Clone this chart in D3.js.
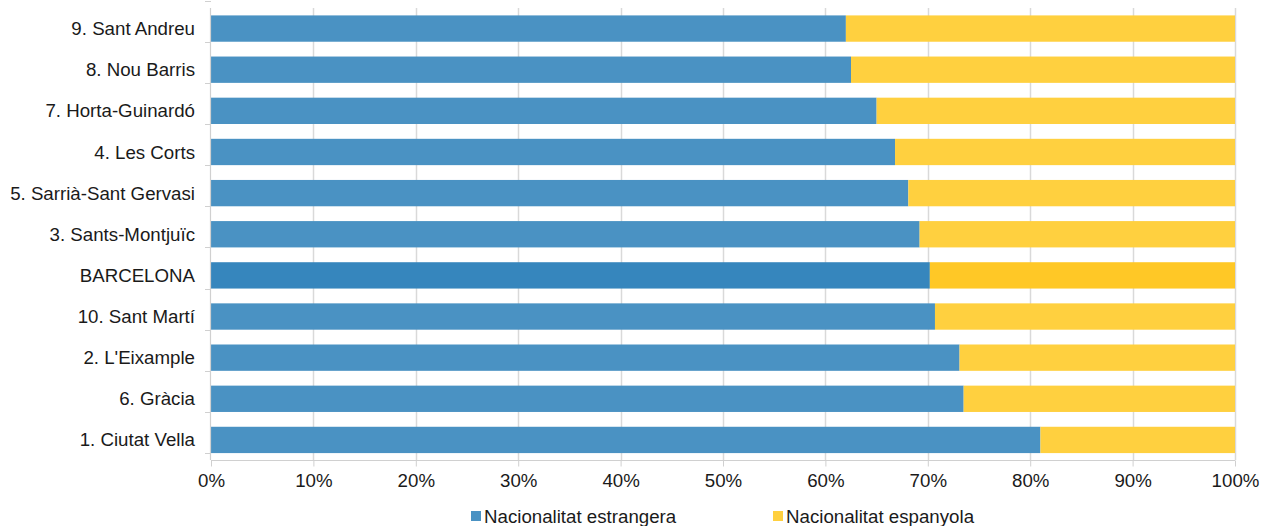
<!DOCTYPE html>
<html>
<head>
<meta charset="utf-8">
<script src="https://cdn.jsdelivr.net/npm/d3@7"></script>
<style>
    body { margin: 0; background: #fff; }
    svg text { font-family: "Liberation Sans", Arial, sans-serif; fill: #1a1a1a; }
</style>
</head>
<body>
<svg id="chart" width="1269" height="526"></svg>
<script>
document.addEventListener('DOMContentLoaded', () => {
    'use strict';

    const districts = ['9. Sant Andreu', '8. Nou Barris', '7. Horta-Guinardó', '4. Les Corts',
        '5. Sarrià-Sant Gervasi', '3. Sants-Montjuïc', 'BARCELONA', '10. Sant Martí',
        "2. L'Eixample", '6. Gràcia', '1. Ciutat Vella'];
    const estrangera = [62.0, 62.5, 65.0, 66.8, 68.1, 69.2, 70.2, 70.7, 73.1, 73.5, 81.0];
    const espanyola = estrangera.map(v => 100 - v);
    const seriesNames = ['Nacionalitat estrangera', 'Nacionalitat espanyola'];
    const ticks = [0, 10, 20, 30, 40, 50, 60, 70, 80, 90, 100];

    const colors = ['#4a92c3', '#ffd03f'];
    const colorsTotal = ['#3686bd', '#ffc826'];
    const FONT = 18.7;

    let margin = {top: 8, left: 211, right: 34, bottom: 66},
        width = 1269, height = 526,
        svg = d3.select('#chart');

    let x = d3.scaleLinear()
        .domain([0, 100])
        .range([margin.left, width - margin.right]);

    let y = d3.scaleBand()
        .domain(districts)
        .range([margin.top, height - margin.bottom + 0.5])
        .paddingInner(0.36)
        .paddingOuter(0.18);

    // gridlines
    svg.append('g')
        .selectAll('line')
        .data(ticks.slice(1))
        .enter().append('line')
        .attr('x1', d => Math.round(x(d)) + 0.5)
        .attr('x2', d => Math.round(x(d)) + 0.5)
        .attr('y1', margin.top)
        .attr('y2', height - margin.bottom)
        .attr('stroke', '#d9d9d9')
        .attr('stroke-width', 1.5);

    let rows = districts.map((d, i) => ({name: d, values: [estrangera[i], espanyola[i]]}));

    let row = svg.append('g')
        .selectAll('g')
        .data(rows)
        .enter().append('g');

    row.append('rect')
        .attr('x', x(0))
        .attr('y', d => y(d.name))
        .attr('width', d => x(d.values[0]) - x(0))
        .attr('height', y.bandwidth())
        .attr('fill', d => d.name === 'BARCELONA' ? colorsTotal[0] : colors[0]);

    row.append('rect')
        .attr('x', d => x(d.values[0]))
        .attr('y', d => y(d.name))
        .attr('width', d => x(100) - x(d.values[0]))
        .attr('height', y.bandwidth())
        .attr('fill', d => d.name === 'BARCELONA' ? colorsTotal[1] : colors[1]);

    // left axis
    let left = svg.append('g');
    let step = y.step();
    let edges = d3.range(districts.length + 1).map(i => y(districts[0]) - y.paddingOuter() * step - y.paddingInner() * step / 2 + i * step);
    left.append('line')
        .attr('x1', margin.left - 0.5).attr('x2', margin.left - 0.5)
        .attr('y1', margin.top).attr('y2', height - margin.bottom)
        .attr('stroke', '#d0d0d0').attr('stroke-width', 1.2);
    left.selectAll('.tick')
        .data(edges)
        .enter().append('line')
        .attr('x1', margin.left - 6).attr('x2', margin.left)
        .attr('y1', d => Math.round(d) + 0.5).attr('y2', d => Math.round(d) + 0.5)
        .attr('stroke', '#d0d0d0');
    left.selectAll('text')
        .data(districts)
        .enter().append('text')
        .attr('x', margin.left - 16)
        .attr('y', d => y(d) + y.bandwidth() / 2)
        .attr('dy', '0.35em')
        .attr('text-anchor', 'end')
        .attr('font-size', FONT)
        .text(d => d);

    // bottom axis
    let bottom = svg.append('g')
        .attr('transform', 'translate(0,' + (height - margin.bottom + 0.5) + ')')
        .call(d3.axisBottom(x).tickValues(ticks).tickFormat(d => d + '%').tickSize(6).tickPadding(7));
    bottom.select('.domain').attr('stroke', '#d0d0d0').attr('d', 'M' + margin.left + ',0H' + x(100));
    bottom.selectAll('.tick line').attr('stroke', '#d0d0d0');
    bottom.selectAll('.tick text')
        .attr('font-size', FONT)
        .style('font-family', '"Liberation Sans", Arial, sans-serif')
        .attr('fill', '#1a1a1a');

    // legend
    let legend = svg.append('g')
        .selectAll('g')
        .data(seriesNames)
        .enter().append('g')
        .attr('transform', (d, i) => 'translate(' + [471, 773][i] + ',511)');
    legend.append('rect')
        .attr('width', 10).attr('height', 10)
        .attr('fill', (d, i) => colors[i]);
    legend.append('text')
        .attr('x', 13).attr('y', 5)
        .attr('dy', '0.35em')
        .attr('font-size', FONT)
        .text(d => d);
});
</script>
</body>
</html>
